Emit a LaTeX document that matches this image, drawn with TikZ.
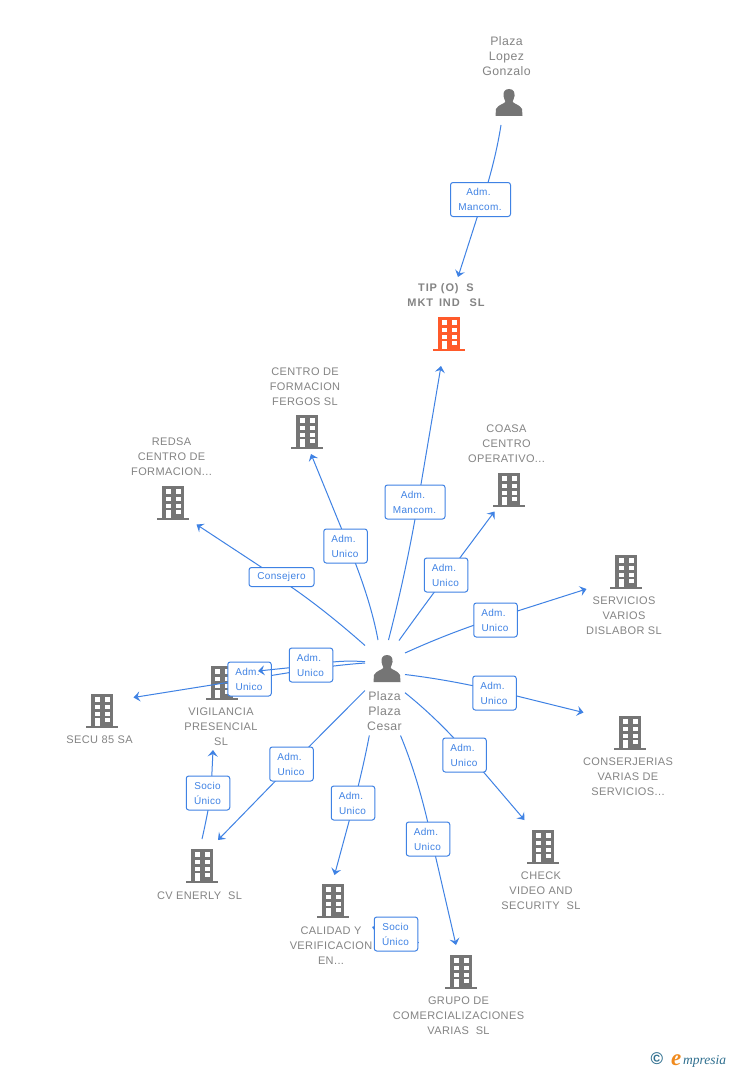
\documentclass[tikz,border=0pt]{standalone}
\usepackage{fontspec}
\setmainfont[LetterSpace=3.5]{Liberation Sans}
\newfontfamily\logofont{Liberation Serif}
\usetikzlibrary{arrows.meta,calc}
\definecolor{linkblue}{HTML}{3F82E4}
\definecolor{icongray}{HTML}{757575}
\definecolor{textgray}{HTML}{848484}
\definecolor{tiporange}{HTML}{FF5A2A}
\definecolor{logoteal}{HTML}{2F6F8F}
\definecolor{logoorange}{HTML}{F08A1D}
\tikzset{
 link/.style={draw=linkblue,line width=1pt,-{Stealth[length=6.5pt,width=10pt,inset=2.5pt]}},
 tag/.style={draw=linkblue,fill=white,rounded corners=2.5pt,line width=1pt,text=linkblue,align=center,inner sep=0pt,
   font=\fontsize{10}{15}\selectfont,minimum height=34pt,minimum width=43.5pt},
 widetag/.style={tag,minimum width=60pt},
 slimtag/.style={tag,minimum width=65pt,minimum height=19pt},
 caption/.style={text=textgray,align=center,inner sep=0pt,yshift=-0.8pt,font=\fontsize{11}{15}\selectfont},
 personcaption/.style={caption,font=\fontsize{12.3}{15}\selectfont},
 iconbox/.style={inner sep=0pt,minimum width=32pt,minimum height=34pt},
}
\newcommand\tadm{Adm.\hspace*{4pt}}
\newcommand\tuni{Unico\hspace*{1pt}}
% building icon: name, colour, position
\newcommand\building[3]{%
 \node[iconbox] (#1) at (#3) {};
 \begin{scope}[shift={(#3)}]
  \fill[#2] (-11,-16) rectangle (11,15.5);
  \fill[#2] (-16,15.5) rectangle (16,18);
  \fill[white] (-7,-13) rectangle (-2.4,-8.2);
  \fill[white] (2.7,-13) rectangle (7.6,-8.2);
  \fill[white] (-7,-5) rectangle (-2.4,-0.8);
  \fill[white] (2.7,-5) rectangle (7.6,-0.8);
  \fill[white] (-7,1.7) rectangle (-2.4,6);
  \fill[white] (2.7,1.7) rectangle (7.6,6);
  \fill[white] (-7,7.5) rectangle (-2.4,15.5);
  \fill[white] (2.7,7.7) rectangle (7.6,12);
 \end{scope}}
% person icon: name, position
\newcommand\person[2]{%
 \node[iconbox,minimum width=28pt,minimum height=28pt] (#1) at (#2) {};
 \begin{scope}[shift={(#2)}]
  \fill[icongray] (0,-14) .. controls (-4.5,-14) and (-6,-10.5) .. (-5.5,-7)
    .. controls (-5.2,-4.5) and (-4,-3) .. (-3.6,-1.5)
    .. controls (-3.6,0.5) and (-11,1.5) .. (-13,6) -- (-13.5,13) -- (13.5,13) -- (13,6)
    .. controls (11,1.5) and (3.6,0.5) .. (3.6,-1.5)
    .. controls (4,-3) and (5.2,-4.5) .. (5.5,-7)
    .. controls (6,-10.5) and (4.5,-14) .. (0,-14) -- cycle;
 \end{scope}}
% connector: id, start, control, point under the tag, end, tag style, tag text, tag position
\newcommand\connect[8]{%
 \coordinate (#1a) at (#2);
 \coordinate (#1c) at (#3);
 \coordinate (#1m) at (#4);
 \coordinate (#1b) at (#5);
 \draw[link] (#1a) .. controls ($(#1a)!0.6667!(#1c)$) and ($(#1m)!0.6667!(#1c)$) .. (#1m) -- (#1b);
 \node[#6] (#1t) at (#8) {#7};}
\begin{document}
\begin{tikzpicture}[x=1pt,y=-1pt]
\useasboundingbox (0,0) rectangle (728,1070);
\fill[white] (0,0) rectangle (728,1070);

\building{tip}{tiporange}{449,333}
\building{fergos}{icongray}{307,431}
\building{redsa}{icongray}{173,502}
\building{coasa}{icongray}{509,489}
\building{servicios}{icongray}{626,571}
\building{conser}{icongray}{630,732}
\building{check}{icongray}{543,846}
\building{grupo}{icongray}{461,971}
\building{calidad}{icongray}{333,900}
\building{cv}{icongray}{202,865}
\building{vigi}{icongray}{222,682}
\building{secu}{icongray}{102,710}
\person{lopez}{509,103}
\person{cesar}{387,669}

\node[personcaption] (lopezt) at (506.5,55.5) {Plaza\\Lopez\\Gonzalo};
\node[personcaption] (cesart) at (384.5,710.5) {Plaza\\Plaza\\Cesar};
\node[caption,font=\fontsize{11}{15}\selectfont\bfseries\addfontfeature{LetterSpace=8}] (tipt) at (446,294) {TIP (O)\ \ S\\MKT\hspace{2pt} IND\hspace{2pt}\ \ SL};
\node[caption] (fergost) at (305,386) {CENTRO DE\\FORMACION\\FERGOS SL};
\node[caption] (redsat) at (171.5,456) {REDSA\\CENTRO DE\\FORMACION...};
\node[caption] (coasat) at (506.5,443) {COASA\\CENTRO\\OPERATIVO...};
\node[caption] (serviciost) at (624,615) {SERVICIOS\\VARIOS\\DISLABOR SL};
\node[caption] (consert) at (628,776) {CONSERJERIAS\\VARIAS DE\\SERVICIOS...};
\node[caption] (checkt) at (541,890) {CHECK\\VIDEO AND\\SECURITY\ \ SL};
\node[caption] (grupot) at (458.5,1015) {GRUPO DE\\COMERCIALIZACIONES\\VARIAS\ \ SL};
\node[caption] (calidadt) at (331,945) {CALIDAD Y\\VERIFICACION\\EN...};
\node[caption] (cvt) at (199.5,895) {CV ENERLY\ \ SL};
\node[caption] (vigit) at (221,726) {VIGILANCIA\\PRESENCIAL\\SL};
\node[caption] (secut) at (99.5,739) {SECU 85 SA};

\connect{e}{501,125}{495.5,160}{483,199}{458,277}{widetag}{\tadm\\Mancom.\hspace*{1pt}}{480.5,199.5}
\connect{f}{388.5,640}{406.5,570}{418,502}{441,366}{widetag}{\tadm\\Mancom.\hspace*{1pt}}{415,502}
\connect{g}{378,640}{370.7,600}{348.6,546}{311,454}{tag}{\tadm\\\tuni}{345.5,546}
\connect{h}{365,645.5}{320,605.7}{281.5,580.4}{196.5,524.5}{slimtag}{Consejero}{281.5,577}
\connect{i}{399,640.5}{423,607}{447.5,574.5}{494.5,511.5}{tag}{\tadm\\\tuni}{446,575}
\connect{j}{405,653}{450,632.5}{495.5,618}{586.5,589}{tag}{\tadm\\\tuni}{495.5,620}
\connect{k}{405,674.5}{450,680}{494.5,690.5}{583.5,712.5}{tag}{\tadm\\\tuni}{494.5,693}
\connect{l}{405,692.7}{439,720}{469,755}{524.5,820}{tag}{\tadm\\\tuni}{464.5,755}
\connect{m}{400.5,735.5}{419,780}{431.5,839}{456,945}{tag}{\tadm\\\tuni}{428,839}
\connect{n}{369.3,735.5}{363.7,765}{354,803}{334.5,875}{tag}{\tadm\\\tuni}{353,803}
\connect{o}{365,690.5}{328.5,727}{292,764}{218,840}{tag}{\tadm\\\tuni}{291.5,764}
\connect{p}{365,663}{330,665.5}{290,672.5}{133.5,697.5}{tag}{\tadm\\\tuni}{249.5,679}
\connect{q}{365,661.7}{338,659.5}{311,665.5}{258,671}{tag}{\tadm\\\tuni}{311,665}
\connect{r}{202,839}{207.5,815}{211,793}{213,750}{tag}{Socio\hspace*{1pt}\\Único\hspace*{1pt}}{208,793}
\connect{s}{418.7,942.7}{408,938}{396,934}{372,927}{tag}{Socio\hspace*{1pt}\\Único\hspace*{1pt}}{396,934}

\node[inner sep=0pt,text=logoteal,font=\fontsize{17}{17}\selectfont\bfseries] (copy) at (657,1059) {©};
\node[inner sep=0pt,anchor=base west,text=logoorange,font=\logofont\fontsize{23}{23}\selectfont\bfseries\itshape] (logoe) at (671,1065) {e};
\node[inner sep=0pt,anchor=base west,text=logoteal,font=\logofont\fontsize{13.5}{13.5}\selectfont\itshape] (logot) at (683,1064.5) {mpresia};
\end{tikzpicture}
\end{document}
